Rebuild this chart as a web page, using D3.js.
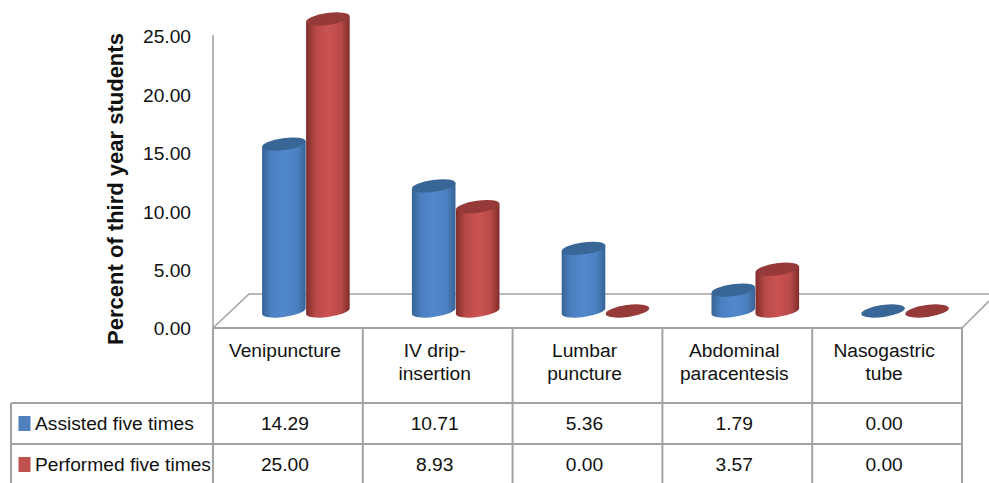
<!DOCTYPE html>
<html>
<head>
<meta charset="utf-8">
<script src="https://cdn.jsdelivr.net/npm/d3@7"></script>
<style>
  html, body { margin: 0; padding: 0; background: #fff; }
  text { font-family: "Liberation Sans", Arial, sans-serif; fill: #111; }
</style>
</head>
<body>
<div id="chart"></div>
<script>
// data
const categories = ['Venipuncture', 'IV drip-insertion', 'Lumbar puncture', 'Abdominal paracentesis', 'Nasogastric tube'];
const categoryLines = [['Venipuncture'], ['IV drip-', 'insertion'], ['Lumbar', 'puncture'], ['Abdominal', 'paracentesis'], ['Nasogastric', 'tube']];
const assisted = [14.29, 10.71, 5.36, 1.79, 0.00];
const performed = [25.00, 8.93, 0.00, 3.57, 0.00];
const seriesNames = ['Assisted five times', 'Performed five times'];
const yTicks = [0, 5, 10, 15, 20, 25];

const width = 989, height = 483;
const left = 213, right = 962, floorY = 328, topY = 36;
const tableLeft = 11, row1 = 403, row2 = 444;
const depthX = 18, depthY = 17;          // 3d offset of the bars from the front of the floor
const rx = 22, ry = 6, tilt = -8;        // cylinder ellipse
const lineColor = '#a3a3a3';
const fontSize = 19.2;
const textShift = -3;                    // table text sits a little left of the column centre

const svg = d3.select('#chart').append('svg')
    .attr('width', width)
    .attr('height', height)
    .style('display', 'block');

// scales
const xScale = d3.scaleBand().domain(categories).range([left, right]);
const xSeries = d3.scaleBand().domain(seriesNames).range([-2 * rx, 2 * rx]);
const yScale = d3.scaleLinear().domain([0, 25]).range([floorY, topY]);

// gradients
const colors = [
    {id: 'blueGrad', edge: '#376497', mid: '#5289ce', top: '#386696', key: '#4f81bd'},
    {id: 'redGrad', edge: '#7f2d2b', mid: '#cb5352', top: '#953a38', key: '#c0504d'}
];
const defs = svg.append('defs');
colors.forEach(c => {
    const g = defs.append('linearGradient').attr('id', c.id);
    g.append('stop').attr('offset', '0%').attr('stop-color', c.edge);
    g.append('stop').attr('offset', '22%').attr('stop-color', d3.interpolateRgb(c.edge, c.mid)(0.75));
    g.append('stop').attr('offset', '52%').attr('stop-color', c.mid);
    g.append('stop').attr('offset', '80%').attr('stop-color', d3.interpolateRgb(c.edge, c.mid)(0.75));
    g.append('stop').attr('offset', '100%').attr('stop-color', c.edge);
});

// floor and back wall
const grid = svg.append('g')
    .attr('fill', 'none')
    .attr('stroke', lineColor)
    .attr('stroke-width', 2);
grid.append('path').attr('stroke-width', 1.6)
    .attr('d', d3.line()([[left, topY - 1], [left, floorY], [left + 36, yScale(0) - 34], [width, yScale(0) - 34]]));
grid.append('path').attr('stroke-width', 1.6)
    .attr('d', d3.line()([[right, floorY], [width, floorY - 27]]));

// y axis
const yAxis = d3.axisLeft(yScale)
    .tickValues(yTicks)
    .tickSize(0)
    .tickPadding(22)
    .tickFormat(d3.format('.2f'));
const yAxisGroup = svg.append('g')
    .attr('class', 'y-axis')
    .attr('transform', 'translate(' + left + ',0)')
    .call(yAxis);
yAxisGroup.select('.domain').remove();
yAxisGroup.selectAll('text')
    .attr('font-size', fontSize)
    .attr('dy', '0.36em');

svg.append('text')
    .attr('transform', 'translate(123,189) rotate(-90)')
    .attr('text-anchor', 'middle')
    .attr('font-weight', 'bold')
    .attr('font-size', 22)
    .text('Percent of third year students');

// cylinders
const phi = tilt * Math.PI / 180;
const t0 = Math.atan2(-ry * Math.sin(phi), rx * Math.cos(phi));
const tx = rx * Math.cos(t0) * Math.cos(phi) - ry * Math.sin(t0) * Math.sin(phi);
const ty = rx * Math.cos(t0) * Math.sin(phi) + ry * Math.sin(t0) * Math.cos(phi);

function drawSeries(values, name, c) {
    const items = categories.map((cat, i) => ({
        cx: xScale(cat) + xScale.bandwidth() / 2 + depthX + xSeries(name) + xSeries.bandwidth() / 2,
        base: yScale(0) - depthY,
        top: yScale(values[i]) - depthY,
        value: values[i]
    }));
    const g = svg.append('g').attr('class', 'series');
    g.selectAll('path.body')
        .data(items.filter(d => d.value > 0))
        .join('path')
        .attr('class', 'body')
        .attr('fill', 'url(#' + c.id + ')')
        .attr('d', d => 'M' + (d.cx - tx) + ',' + (d.top - ty)
            + 'L' + (d.cx - tx) + ',' + (d.base - ty)
            + 'A' + rx + ',' + ry + ' ' + tilt + ' 0 0 ' + (d.cx + tx) + ',' + (d.base + ty)
            + 'L' + (d.cx + tx) + ',' + (d.top + ty) + 'Z');
    g.selectAll('ellipse')
        .data(items)
        .join('ellipse')
        .attr('rx', rx)
        .attr('ry', ry)
        .attr('fill', c.top)
        .attr('transform', d => 'translate(' + d.cx + ',' + d.top + ') rotate(' + tilt + ')');
}
// red goes second so that it sits over the blue bar
drawSeries(assisted, seriesNames[0], colors[0]);
drawSeries(performed, seriesNames[1], colors[1]);

// data table lines
grid.append('path')
    .attr('d', d3.line()([[left, floorY], [right, floorY]]));
[row1, row2].forEach(y => {
    grid.append('path').attr('d', d3.line()([[tableLeft, y], [right, y]]));
});
grid.append('path').attr('d', d3.line()([[tableLeft, row1], [tableLeft, height]]));
d3.range(categories.length + 1).forEach(i => {
    const x = i < categories.length ? xScale(categories[i]) : right;
    grid.append('path').attr('d', d3.line()([[x, floorY], [x, height]]));
});

// category labels
categories.forEach((cat, i) => {
    const cx = xScale(cat) + xScale.bandwidth() / 2 + textShift;
    const label = svg.append('text')
        .attr('text-anchor', 'middle')
        .attr('font-size', fontSize);
    categoryLines[i].forEach((line, j) => {
        label.append('tspan')
            .attr('x', cx)
            .attr('y', 357 + j * 23)
            .text(line);
    });
});

// table rows with legend keys
[assisted, performed].forEach((values, r) => {
    const y = (r === 0 ? 430 : 471);
    svg.append('rect')
        .attr('x', 18.5)
        .attr('y', y - 14)
        .attr('width', 12)
        .attr('height', 15)
        .attr('fill', colors[r].key);
    svg.append('text')
        .attr('x', 35)
        .attr('y', y)
        .attr('font-size', fontSize)
        .text(seriesNames[r]);
    svg.append('g').selectAll('text')
        .data(values)
        .join('text')
        .attr('x', (d, i) => xScale(categories[i]) + xScale.bandwidth() / 2 + textShift)
        .attr('y', y)
        .attr('text-anchor', 'middle')
        .attr('font-size', fontSize)
        .text(d => d3.format('.2f')(d));
});
</script>
</body>
</html>
